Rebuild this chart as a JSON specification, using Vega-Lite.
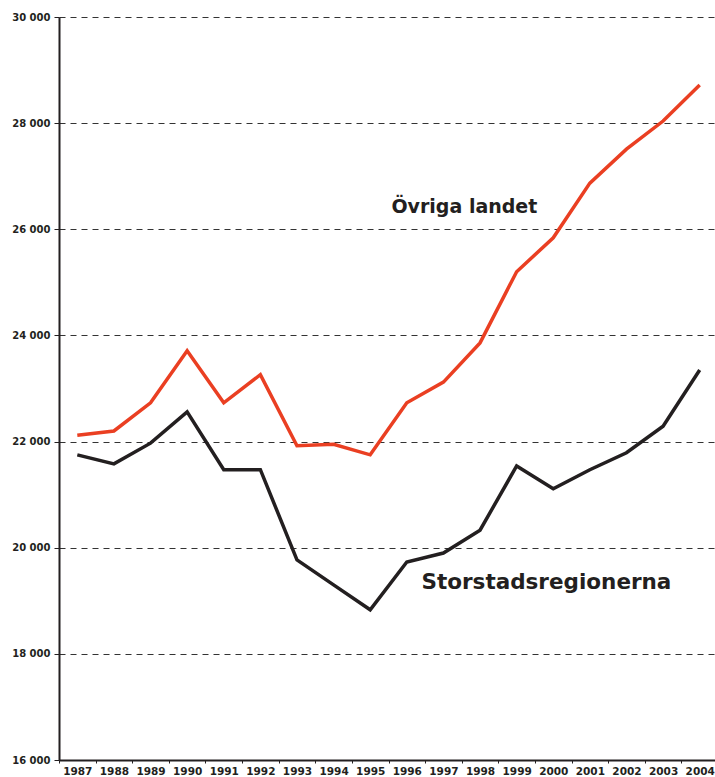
{
  "$schema": "https://vega.github.io/schema/vega-lite/v6.json",
  "width": 659,
  "height": 743,
  "autosize": {"type": "none"},
  "padding": {"left": 59, "top": 17, "right": 0, "bottom": 17},
  "background": "white",
  "config": {
    "view": {"stroke": null},
    "font": "DejaVu Sans"
  },
  "datasets": {
    "series": [
      {"year": "1987", "group": "Övriga landet", "value": 22120},
      {"year": "1988", "group": "Övriga landet", "value": 22200},
      {"year": "1989", "group": "Övriga landet", "value": 22730},
      {"year": "1990", "group": "Övriga landet", "value": 23710},
      {"year": "1991", "group": "Övriga landet", "value": 22730},
      {"year": "1992", "group": "Övriga landet", "value": 23260},
      {"year": "1993", "group": "Övriga landet", "value": 21920},
      {"year": "1994", "group": "Övriga landet", "value": 21950},
      {"year": "1995", "group": "Övriga landet", "value": 21750},
      {"year": "1996", "group": "Övriga landet", "value": 22730},
      {"year": "1997", "group": "Övriga landet", "value": 23120},
      {"year": "1998", "group": "Övriga landet", "value": 23860},
      {"year": "1999", "group": "Övriga landet", "value": 25200},
      {"year": "2000", "group": "Övriga landet", "value": 25840},
      {"year": "2001", "group": "Övriga landet", "value": 26870},
      {"year": "2002", "group": "Övriga landet", "value": 27510},
      {"year": "2003", "group": "Övriga landet", "value": 28040},
      {"year": "2004", "group": "Övriga landet", "value": 28720},
      {"year": "1987", "group": "Storstadsregionerna", "value": 21750},
      {"year": "1988", "group": "Storstadsregionerna", "value": 21580},
      {"year": "1989", "group": "Storstadsregionerna", "value": 21970},
      {"year": "1990", "group": "Storstadsregionerna", "value": 22560},
      {"year": "1991", "group": "Storstadsregionerna", "value": 21470},
      {"year": "1992", "group": "Storstadsregionerna", "value": 21470},
      {"year": "1993", "group": "Storstadsregionerna", "value": 19770},
      {"year": "1994", "group": "Storstadsregionerna", "value": 19300},
      {"year": "1995", "group": "Storstadsregionerna", "value": 18830},
      {"year": "1996", "group": "Storstadsregionerna", "value": 19730},
      {"year": "1997", "group": "Storstadsregionerna", "value": 19900},
      {"year": "1998", "group": "Storstadsregionerna", "value": 20330},
      {"year": "1999", "group": "Storstadsregionerna", "value": 21540},
      {"year": "2000", "group": "Storstadsregionerna", "value": 21110},
      {"year": "2001", "group": "Storstadsregionerna", "value": 21470},
      {"year": "2002", "group": "Storstadsregionerna", "value": 21790},
      {"year": "2003", "group": "Storstadsregionerna", "value": 22290},
      {"year": "2004", "group": "Storstadsregionerna", "value": 23350}
    ]
  },
  "layer": [
    {
      "data": {"name": "series"},
      "mark": {"type": "line", "strokeWidth": 3.5, "strokeJoin": "miter"},
      "encoding": {
        "x": {
          "field": "year",
          "type": "ordinal",
          "scale": {"type": "band", "paddingInner": 0, "paddingOuter": 0},
          "axis": {
            "title": null,
            "labelAngle": 0,
            "labelFont": "DejaVu Sans",
            "labelFontWeight": "bold",
            "labelFontSize": 10.5,
            "labelColor": "#231f20",
            "labelPadding": 3,
            "tickBand": "extent",
            "tickSize": 3,
            "tickColor": "#231f20",
            "domainColor": "#231f20",
            "domainWidth": 2,
            "grid": false
          }
        },
        "y": {
          "field": "value",
          "type": "quantitative",
          "scale": {"domain": [16000, 30000], "nice": false, "zero": false},
          "axis": {
            "title": null,
            "values": [16000, 18000, 20000, 22000, 24000, 26000, 28000, 30000],
            "labelExpr": "replace(format(datum.value, ','), ',', ' ')",
            "labelFont": "DejaVu Sans",
            "labelFontWeight": "bold",
            "labelFontSize": 10,
            "labelColor": "#231f20",
            "labelPadding": 4,
            "tickSize": 5,
            "tickColor": "#231f20",
            "domainColor": "#231f20",
            "domainWidth": 2,
            "grid": true,
            "gridColor": "#333333",
            "gridDash": [6, 5],
            "gridWidth": 1
          }
        },
        "color": {
          "field": "group",
          "type": "nominal",
          "scale": {"domain": ["Övriga landet", "Storstadsregionerna"], "range": ["#ea3f22", "#231f20"]},
          "legend": null
        }
      }
    },
    {
      "data": {"values": [{"year": "1996", "value": 26420, "label": "Övriga landet"}]},
      "mark": {"type": "text", "align": "left", "baseline": "middle", "font": "DejaVu Sans", "fontWeight": "bold", "fontSize": 19, "color": "#231f20"},
      "encoding": {
        "x": {"field": "year", "type": "ordinal", "bandPosition": 0.08},
        "y": {"field": "value", "type": "quantitative"},
        "text": {"field": "label"}
      }
    },
    {
      "data": {"values": [{"year": "1996", "value": 19340, "label": "Storstadsregionerna"}]},
      "mark": {"type": "text", "align": "left", "baseline": "middle", "font": "DejaVu Sans", "fontWeight": "bold", "fontSize": 21.5, "color": "#231f20"},
      "encoding": {
        "x": {"field": "year", "type": "ordinal", "bandPosition": 0.9},
        "y": {"field": "value", "type": "quantitative"},
        "text": {"field": "label"}
      }
    }
  ]
}
